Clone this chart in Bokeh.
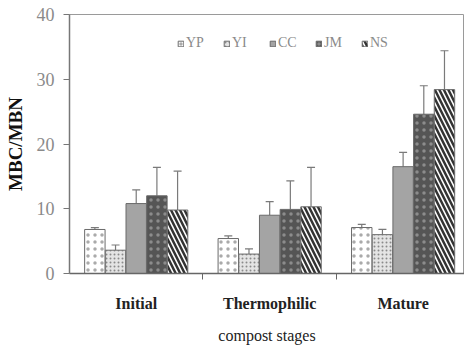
from bokeh.plotting import figure
from bokeh.models import Range1d, FixedTicker, Whisker, TeeHead, ColumnDataSource, Legend, LegendItem
from bokeh.embed import file_html
from bokeh.resources import INLINE
from bokeh.transform import dodge

stages = ["Initial", "Thermophilic", "Mature"]
series = ["YP", "YI", "CC", "JM", "NS"]
yp = [6.8, 5.4, 7.1]
yi = [3.6, 3.0, 6.0]
cc = [10.8, 9.0, 16.5]
jm = [12.0, 9.9, 24.6]
ns = [9.8, 10.3, 28.4]
yp_err = [0.3, 0.4, 0.5]
yi_err = [0.8, 0.8, 0.8]
cc_err = [2.1, 2.1, 2.2]
jm_err = [4.4, 4.4, 4.4]
ns_err = [6.0, 6.1, 6.0]
y_ticks = [0, 10, 20, 30, 40]

values = [yp, yi, cc, jm, ns]
errors = [yp_err, yi_err, cc_err, jm_err, ns_err]

styles = [
    dict(fill_color="white", hatch_pattern="dot", hatch_color="#aaaaaa", hatch_scale=7, hatch_weight=0.7),
    dict(fill_color="#e4e4e4", hatch_pattern="dot", hatch_color="#8a8a8a", hatch_scale=4, hatch_weight=0.8),
    dict(fill_color="#a4a4a4"),
    dict(fill_color="#555555", hatch_pattern="dot", hatch_color="#8c8c8c", hatch_scale=7, hatch_weight=0.8),
    dict(fill_color="white", hatch_pattern="\\", hatch_color="#333333", hatch_scale=9, hatch_weight=2.5),
]
offsets = [-0.31, -0.155, 0.0, 0.155, 0.31]

p = figure(width=464, height=349, output_backend="svg", toolbar_location=None,
           x_range=Range1d(0, 2.96), y_range=Range1d(0, 40),
           min_border_left=69, min_border_right=0, min_border_top=14, min_border_bottom=76)
p.grid.visible = False
p.outline_line_color = "#9a9a9a"
p.background_fill_color = "white"
p.border_fill_color = "white"

xs = [i + 0.5 for i in range(len(stages))]
items = []
for name, vals, errs, st, off in zip(series, values, errors, styles, offsets):
    src = ColumnDataSource(dict(x=xs, top=vals, up=[v + e for v, e in zip(vals, errs)]))
    r = p.vbar(x=dodge("x", off), top="top", bottom=0, width=0.153, source=src,
               line_color="#6a6a6a", line_width=1, **st)
    w = Whisker(base=dodge("x", off), upper="up", lower="top", source=src,
                line_color="#7a7a7a", line_width=1.2,
                upper_head=TeeHead(size=8, line_color="#7a7a7a", line_width=1.2), lower_head=None)
    p.add_layout(w)
    items.append(LegendItem(label=name, renderers=[r]))

legend = Legend(items=items, orientation="horizontal", location=(108, 222),
                padding=0, margin=0, spacing=17, glyph_width=7, glyph_height=7,
                label_standoff=2, label_text_font="Liberation Serif",
                label_text_font_size="14px", label_text_color="#8a8a8a",
                background_fill_alpha=0, border_line_alpha=0)
p.add_layout(legend)

xa = p.xaxis[0]
xa.ticker = FixedTicker(ticks=xs, minor_ticks=[1, 2])
xa.major_label_overrides = {x: s for x, s in zip(xs, stages)}
xa.major_tick_line_color = None
xa.major_tick_out = 0
xa.major_tick_in = 0
xa.minor_tick_out = 6
xa.minor_tick_in = 0
xa.minor_tick_line_color = "#666666"
xa.axis_line_color = "#666666"
xa.axis_line_width = 1.5
xa.major_label_standoff = 15
xa.major_label_text_font = "Liberation Serif"
xa.major_label_text_font_style = "bold"
xa.major_label_text_font_size = "16px"
xa.major_label_text_color = "#222222"
xa.axis_label = "compost stages"
xa.axis_label_text_font = "Liberation Serif"
xa.axis_label_text_font_style = "normal"
xa.axis_label_text_font_size = "16px"
xa.axis_label_text_color = "#222222"
xa.axis_label_standoff = 12

ya = p.yaxis[0]
ya.ticker = FixedTicker(ticks=y_ticks)
ya.minor_tick_line_color = None
ya.major_tick_out = 6
ya.major_tick_in = 0
ya.major_tick_line_color = "#777777"
ya.axis_line_color = "#777777"
ya.axis_line_width = 1.5
ya.major_label_standoff = 9
ya.major_label_text_font = "Liberation Serif"
ya.major_label_text_font_size = "18px"
ya.major_label_text_color = "#8a8a8a"
ya.axis_label = "MBC/MBN"
ya.axis_label_text_font = "Liberation Serif"
ya.axis_label_text_font_style = "bold"
ya.axis_label_text_font_size = "19px"
ya.axis_label_text_color = "#111111"
ya.axis_label_standoff = 8

open("out.html", "w").write(file_html(p, INLINE))
